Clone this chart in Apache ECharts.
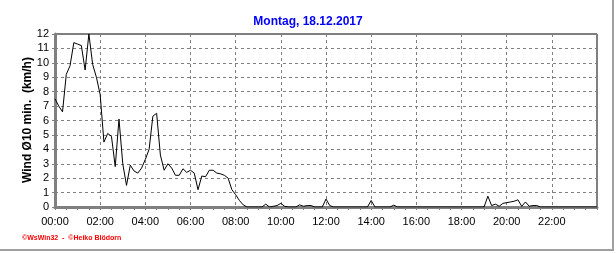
<!DOCTYPE html>
<html>
<head>
<meta charset="utf-8">
<script src="https://cdn.jsdelivr.net/npm/echarts@6/dist/echarts.min.js"></script>
<style>
html,body{margin:0;padding:0;background:#fff;}
#chart{width:616px;height:253px;}
</style>
</head>
<body>
<div id="chart"></div>
<script>
// Wind speed, 10-minute averages (km/h), 00:00 .. 24:00
const titleText = 'Montag, 18.12.2017';
const yAxisTitle = 'Wind Ø10 min.  (km/h)';
const footerText = '©WsWin32  -  ©Heiko Blödorn';
const yTicks = [0,1,2,3,4,5,6,7,8,9,10,11,12];

const windValues = [
  7.5, 7.0, 6.6, 9.2, 9.8, 11.4,      // 00
  11.3, 11.2, 9.5, 12.0, 9.9, 9.0,    // 01
  7.8, 4.5, 5.1, 4.9, 2.8, 6.1,       // 02
  3.0, 1.5, 2.9, 2.5, 2.35, 2.7,      // 03
  3.3, 4.0, 6.3, 6.5, 3.6, 2.55,      // 04
  3.0, 2.7, 2.2, 2.2, 2.65, 2.4,      // 05
  2.55, 2.35, 1.2, 2.15, 2.1, 2.55,   // 06
  2.55, 2.35, 2.3, 2.2, 2.0, 1.2,     // 07
  0.85, 0.45, 0.15, 0, 0, 0,          // 08
  0, 0, 0.2, 0, 0.05, 0.1,            // 09
  0.25, 0.05, 0, 0, 0, 0.15,          // 10
  0.05, 0.1, 0.1, 0, 0, 0,            // 11
  0.55, 0.1, 0, 0, 0, 0,              // 12
  0, 0, 0, 0, 0, 0,                   // 13
  0.45, 0, 0, 0, 0, 0,                // 14
  0.13, 0, 0, 0, 0, 0,                // 15
  0, 0, 0, 0, 0, 0,                   // 16
  0, 0, 0, 0, 0, 0,                   // 17
  0, 0, 0, 0, 0, 0,                   // 18
  0, 0.75, 0.1, 0.2, 0.05, 0.25,      // 19
  0.3, 0.35, 0.4, 0.5, 0.05, 0.35,    // 20
  0.05, 0.1, 0.1, 0, 0, 0,            // 21
  0, 0, 0, 0, 0, 0,                   // 22
  0, 0, 0, 0, 0, 0,                   // 23
  0                                   // 24:00
];

// category labels every 10 minutes
const times = [];
for (let h = 0; h <= 24; h++) {
  for (let m = 0; m < 60; m += 10) {
    if (h === 24 && m > 0) break;
    times.push(String(h).padStart(2,'0') + ':' + String(m).padStart(2,'0'));
  }
}

const chart = echarts.init(document.getElementById('chart'), null, {renderer:'canvas'});
const font = 'Arial, "Liberation Sans", sans-serif';
chart.setOption({
  animation: false,
  backgroundColor: '#ffffff',
  title: {
    text: titleText,
    left: 'center',
    top: 11,
    textStyle: {color:'#0000ff', fontSize:12, fontWeight:'bold', fontFamily:font}
  },
  grid: {
    left: 55, right: 19, top: 34, bottom: 46,
    show: true, borderColor: '#000000', borderWidth: 1, backgroundColor: 'transparent'
  },
  xAxis: {
    type: 'category',
    data: times,
    boundaryGap: false,
    axisLine: {show:true, lineStyle:{color:'#808080', width:3}},
    axisTick: {show:true, interval: 2, length: 3, lineStyle:{color:'#808080', width:1}},
    axisLabel: {
      interval: 11, margin: 9, color:'#000', fontSize: 11, fontFamily: font,
      formatter: function(v){ return v === '24:00' ? '' : v; }
    },
    splitLine: {show:true, interval: 11, lineStyle:{color:'#808080', type:[3,3], width:1}}
  },
  yAxis: {
    type: 'value',
    min: yTicks[0], max: yTicks[yTicks.length-1], interval: 1,
    axisLine: {show:true, lineStyle:{color:'#808080', width:3}},
    axisTick: {show:true, length: 3, lineStyle:{color:'#808080', width:1}},
    axisLabel: {margin: 6, color:'#000', fontSize: 11, fontFamily: font},
    splitLine: {show:true, lineStyle:{color:'#808080', type:[3,3], width:1}}
  },
  graphic: [
    {type:'text', x: 28, y: 120, rotation: Math.PI/2,
     style:{text: yAxisTitle, fill:'#000', font:'bold 12px ' + font, textAlign:'center', textVerticalAlign:'middle'}},
    {type:'text', x: 22, y: 238,
     style:{text: footerText, fill:'#ff0000', font:'bold 7px ' + font, textAlign:'left', textVerticalAlign:'middle'}},
    {type:'line', shape:{x1:613, y1:0, x2:613, y2:251}, style:{stroke:'#a0a0a0', lineWidth:2}},
    {type:'line', shape:{x1:0, y1:250, x2:614, y2:250}, style:{stroke:'#a0a0a0', lineWidth:2}}
  ],
  series: [{
    type: 'line',
    data: windValues,
    showSymbol: false,
    symbol: 'none',
    lineStyle: {color:'#000000', width:1},
    z: 5
  }]
});
</script>
</body>
</html>
